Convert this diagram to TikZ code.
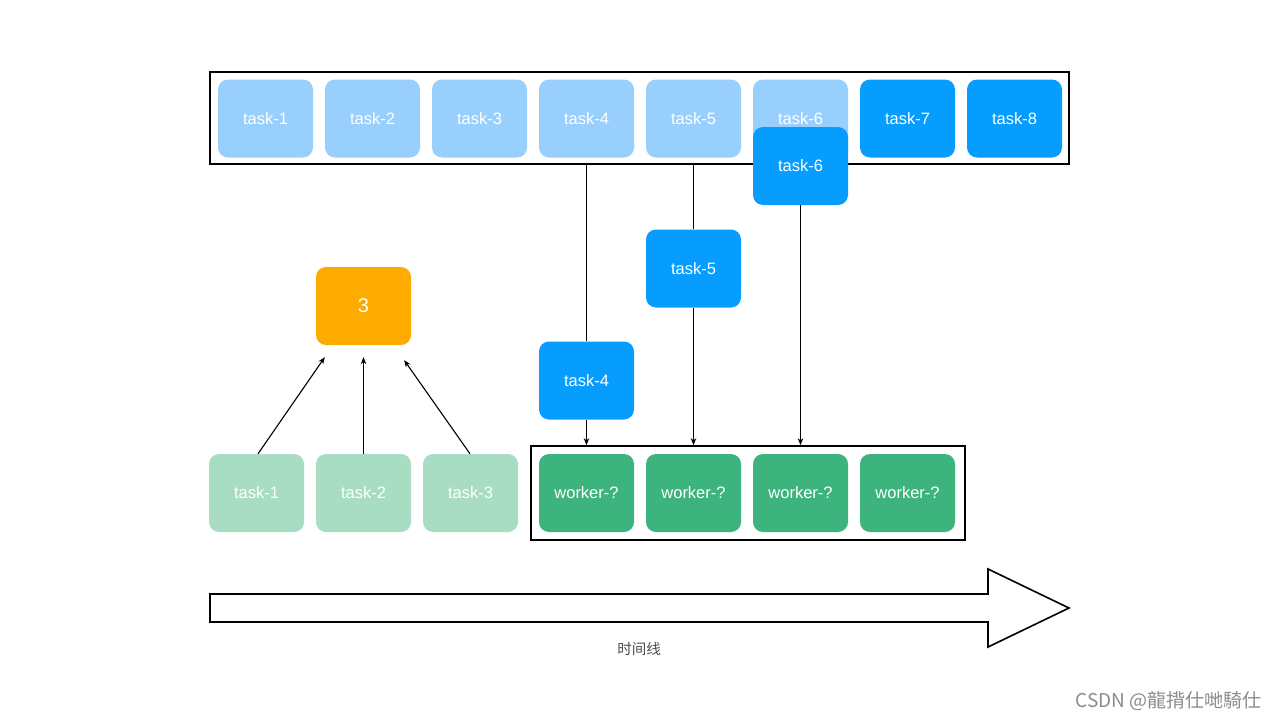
\documentclass[tikz,border=0pt]{standalone}
\usepackage{fontspec}
\setmainfont{Liberation Sans}
\newfontfamily\cjk{Noto Sans CJK SC}
\usetikzlibrary{arrows.meta,calc}
\definecolor{lblue}{HTML}{99CFFC}
\definecolor{dblue}{HTML}{069DFE}
\definecolor{lgreen}{HTML}{A8DDC3}
\definecolor{dgreen}{HTML}{3DB47E}
\definecolor{orng}{HTML}{FEAB00}
\begin{document}
\begin{tikzpicture}[x=1pt,y=-1pt,
  card/.style={rounded corners=10pt, minimum width=95pt, minimum height=78pt, inner sep=0pt,
    text=white, font=\fontsize{16.5}{20}\selectfont},
  light/.style={card, fill=lblue},
  dark/.style={card, fill=dblue},
  lgr/.style={card, fill=lgreen},
  dgr/.style={card, fill=dgreen},
  org/.style={card, fill=orng, font=\fontsize{20}{24}\selectfont},
  frame/.style={draw=black, line width=1.6pt, inner sep=0pt},
  conn/.style={line width=1.1pt},
  tip/.style={line width=1.1pt, -{Stealth[length=7pt,width=5.5pt]}}
]
\useasboundingbox (0,0) rectangle (1280,720);
\fill[white] (0,0) rectangle (1280,720);

% queue
\node[frame, minimum width=859pt, minimum height=92pt] (queue) at (639.5,118) {};
\node[light] (t1) at (265.5,118.5) {task-1};
\node[light] (t2) at (372.5,118.5) {task-2};
\node[light] (t3) at (479.5,118.5) {task-3};
\node[light] (t4) at (586.5,118.5) {task-4};
\node[light] (t5) at (693.5,118.5) {task-5};
\node[light] (t6) at (800.5,118.5) {task-6};
\node[dark] (t7) at (907.5,118.5) {task-7};
\node[dark] (t8) at (1014.5,118.5) {task-8};

% worker pool
\node[frame, minimum width=434pt, minimum height=94pt] (pool) at (748,493) {};
\node[dgr] (w1) at (586.5,493) {worker-?};
\node[dgr] (w2) at (693.5,493) {worker-?};
\node[dgr] (w3) at (800.5,493) {worker-?};
\node[dgr] (w4) at (907.5,493) {worker-?};

% moving tasks
\node[dark] (m6) at (800.5,166) {task-6};
\node[dark] (m5) at (693.5,268.5) {task-5};
\node[dark] (m4) at (586.5,380.5) {task-4};

\draw[conn] (queue.south -| m4) -- (m4.north);
\draw[tip] (m4.south) -- (m4.south |- pool.north);
\draw[conn] (queue.south -| m5) -- (m5.north);
\draw[tip] (m5.south) -- (m5.south |- pool.north);
\draw[tip] (m6.south) -- (m6.south |- pool.north);

% aggregation
\node[org] (c3) at (363.5,306) {3};
\node[lgr] (g1) at (256.5,493) {task-1};
\node[lgr] (g2) at (363.5,493) {task-2};
\node[lgr] (g3) at (470.5,493) {task-3};
\draw[tip] ($(g1.north)+(1.5,0)$) -- ($(c3.south west)+(9,12)$);
\draw[tip] (g2.north) -- ($(c3.south)+(0,12)$);
\draw[tip] ($(g3.north)+(-0.5,0)$) -- ($(c3.south east)+(-7,15)$);

% timeline arrow
\draw[line width=1.6pt, fill=white] (210,594) -- (988,594) -- (988,569) -- (1069,608)
  -- (988,647) -- (988,622) -- (210,622) -- cycle;
\node[font=\cjk\fontsize{14.5}{17}\selectfont, text=black!70] (tl) at (639,649) {时间线};

\node[font=\cjk\fontsize{19}{22}\selectfont, text=black!45, anchor=east] (wm) at (1265,701) {CSDN @龍揹仕哋騎仕};
\end{tikzpicture}
\end{document}
